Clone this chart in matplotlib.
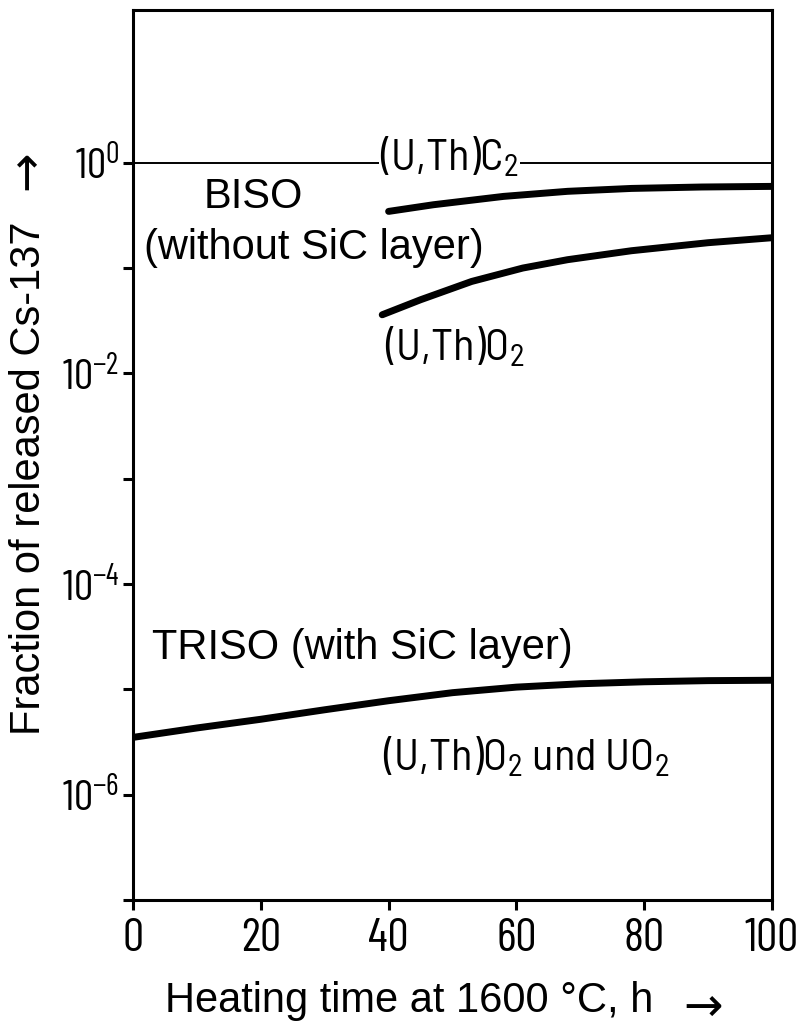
import matplotlib
matplotlib.use("Agg")
import matplotlib.pyplot as plt
from matplotlib.ticker import FixedLocator, FixedFormatter

# heating time (h) and released fraction of Cs-137
carbide_ref_time = [0, 100]
carbide_ref_frac = [1.0, 1.0]

biso_carbide_time = [40, 47, 58, 68, 78, 89, 100]
biso_carbide_frac = [0.345, 0.399, 0.479, 0.535, 0.570, 0.588, 0.596]

biso_oxide_time = [39, 45, 53, 61, 68, 78, 90, 100]
biso_oxide_frac = [0.036, 0.050, 0.0746, 0.100, 0.120, 0.146, 0.174, 0.194]

triso_time = [0, 10, 20, 30, 40, 50, 60, 70, 80, 90, 100]
triso_frac = [3.5e-6, 4.3e-6, 5.2e-6, 6.4e-6, 7.8e-6, 9.3e-6, 1.05e-5,
              1.13e-5, 1.18e-5, 1.21e-5, 1.22e-5]

x_ticks = [0, 20, 40, 60, 80, 100]
y_decades = [-7, -6, -5, -4, -3, -2, -1, 0]
y_labelled = [-6, -4, -2, 0]

narrow = ["Barlow Condensed", "DejaVu Sans"]
semi = ["Barlow Semi Condensed", "DejaVu Sans"]
sans = ["Liberation Sans", "DejaVu Sans"]

plt.rcParams["mathtext.fontset"] = "custom"
plt.rcParams["mathtext.rm"] = "Barlow Condensed"
plt.rcParams["mathtext.it"] = "Barlow Condensed"
plt.rcParams["mathtext.default"] = "regular"

fig = plt.figure(figsize=(7.98, 10.30), dpi=100)
ax = fig.add_axes([0.1667, 0.1262, 0.8007, 0.8641])

ax.plot(carbide_ref_time, carbide_ref_frac, color="black", lw=1.4)
for t, f in [(biso_carbide_time, biso_carbide_frac),
             (biso_oxide_time, biso_oxide_frac),
             (triso_time, triso_frac)]:
    ax.plot(t, f, color="black", lw=5, solid_capstyle="round",
            solid_joinstyle="round")

ax.set_yscale("log")
ax.set_xlim(0, 100)
ax.set_ylim(1e-7, 10 ** 1.45)

ax.yaxis.set_major_locator(FixedLocator([10.0 ** d for d in y_decades]))
ax.yaxis.set_major_formatter(FixedFormatter(
    [r"$10^{%d}$" % d if d in y_labelled else "" for d in y_decades]))
ax.yaxis.set_minor_locator(FixedLocator([]))
ax.set_xticks(x_ticks)
ax.set_xticklabels([str(v) for v in x_ticks])

for s in ax.spines.values():
    s.set_linewidth(2.2)
ax.tick_params(axis="both", direction="out", width=2.2, length=7, color="black")
ax.tick_params(axis="x", labelsize=34, pad=6)
ax.tick_params(axis="y", labelsize=31, pad=3)
for lab in ax.get_xticklabels() + ax.get_yticklabels():
    lab.set_family(narrow)

# curve annotations
ax.text(0.3865, 0.820, r"(U,Th)C$_2$", transform=ax.transAxes, fontsize=32,
        family=semi, ha="left", va="baseline",
        bbox=dict(facecolor="white", edgecolor="none", pad=1))
ax.text(0.394, 0.607, r"(U,Th)O$_2$", transform=ax.transAxes, fontsize=32,
        family=semi, ha="left", va="baseline")
ax.text(0.391, 0.146, r"(U,Th)O$_2$ und UO$_2$", transform=ax.transAxes,
        fontsize=32, family=semi, ha="left", va="baseline")

ax.text(0.189, 0.790, "BISO", transform=ax.transAxes, fontsize=30,
        family=sans, ha="center", va="center")
ax.text(0.2825, 0.7326, "(without SiC layer)", transform=ax.transAxes,
        fontsize=30, family=sans, ha="center", va="center")
ax.text(0.359, 0.283, "TRISO (with SiC layer)", transform=ax.transAxes,
        fontsize=30, family=sans, ha="center", va="center")

# axis titles with their arrows
fig.text(0.036, 0.5354, "Fraction of released Cs-137", rotation=90,
         fontsize=30, family=sans, ha="center", va="center")
fig.text(0.035, 0.835, "\u2192", rotation=90, fontsize=34,
         family="DejaVu Sans", ha="center", va="center")
fig.text(0.5125, 0.0175, "Heating time at 1600 \u00b0C, h",
         fontsize=30, family=sans, ha="center", va="baseline")
fig.text(0.881, 0.0087, "\u2192", fontsize=34, family="DejaVu Sans",
         ha="center", va="baseline")

fig.savefig("out.png", dpi=100, facecolor="white")
